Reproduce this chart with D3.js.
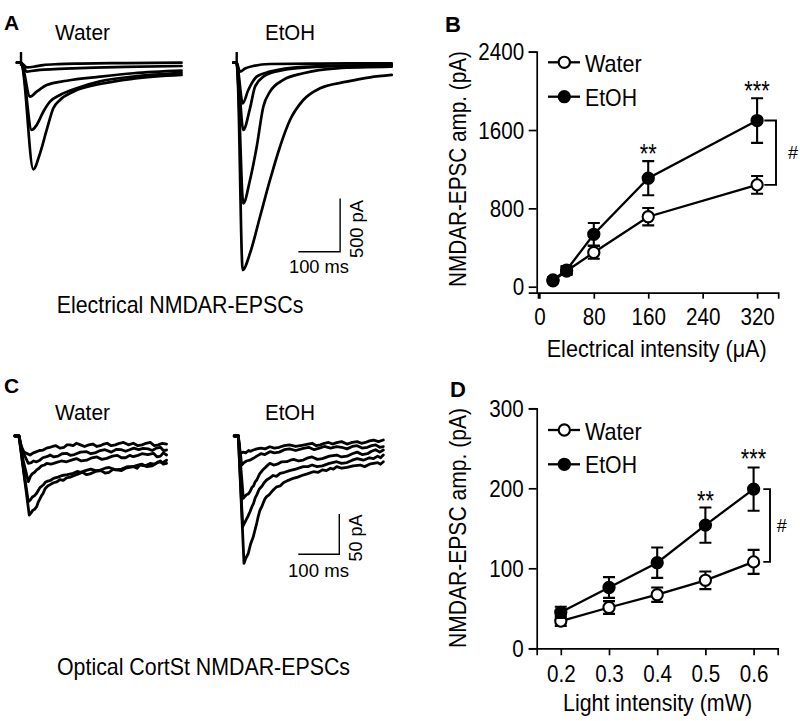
<!DOCTYPE html>
<html><head><meta charset="utf-8">
<script src="https://cdn.jsdelivr.net/npm/d3@7"></script>
<style>
body{margin:0;background:#fff}
svg{display:block}
text{font-family:"Liberation Sans",Arial,Helvetica,sans-serif;fill:#000}
</style></head>
<body><svg id="fig" width="800" height="721"></svg>
<script>
// ---------------- DATA ----------------
// Panel B: electrical stimulation
const elecIntensity = [20, 40, 80, 160, 320];           // µA
const elecWater     = [60, 160, 350, 715, 1040];        // pA
const elecWaterSem  = [25, 40, 65, 89, 90];
const elecEtOH      = [70, 170, 535, 1108, 1697];
const elecEtOHSem   = [25, 40, 115, 174, 228];
const elecYTicks    = [0, 800, 1600, 2400];
const elecXTicks    = [0, 80, 160, 240, 320];
const elecStars     = [{x: 160, label: "**"}, {x: 320, label: "***"}];

// Panel D: optical stimulation
const lightIntensity = [0.2, 0.3, 0.4, 0.5, 0.6];       // mW
const lightWater     = [34, 51, 67, 85, 108];           // pA
const lightWaterSem  = [6, 8, 9, 11, 15];
const lightEtOH      = [45, 76, 107, 154, 199];
const lightEtOHSem   = [7, 13, 19, 22, 27];
const lightYTicks    = [0, 100, 200, 300];
const lightXTicks    = [0.2, 0.3, 0.4, 0.5, 0.6];
const lightStars     = [{x: 0.5, label: "**"}, {x: 0.6, label: "***"}];

// Panel A example traces [ms, pA]
const artifactA = [[0, 100], [0, -30]];
const tracesAWater = [
  [[-9.6,0],[0,0],[3,-8],[14,-43],[30,-38],[53,-22],[90,-13],[141,-8],[250,-4],[385,0]],
  [[-9.6,0],[0,0],[3,-15],[14.4,-84],[25,-78],[45.6,-68],[80,-60],[141.5,-50],[250,-40],[385,-31]],
  [[-9.6,0],[0,0],[3,-20],[21.6,-319],[37.6,-272],[61.6,-209],[109.6,-169],[189.4,-131],[269.3,-99],[385,-75]],
  [[-9.6,0],[0,0],[3,-25],[25.7,-631],[37.6,-584],[53.5,-460],[69.5,-366],[93.5,-303],[133.6,-240],[189.4,-175],[269.3,-130],[385,-95]],
  [[-9.6,0],[0,0],[3,-30],[29.5,-1000],[45.6,-850],[61.6,-631],[77.5,-428],[93.5,-350],[125.4,-272],[189.4,-200],[269.3,-150],[385,-115]]
];
const tracesAEtOH = [
  [[-8,0],[0,0],[2,-20],[7.9,-84],[20,-55],[39.8,-31],[79.9,-12],[200,-8],[371.7,-6]],
  [[-8,0],[0,0],[3,-60],[14.4,-381],[27.8,-256],[48,-131],[79.9,-84],[159.7,-38],[260,-28],[371.7,-22]],
  [[-8,0],[0,0],[3,-80],[15.8,-631],[31.9,-428],[43.9,-225],[63.8,-131],[103.8,-75],[199.8,-38],[371.7,-24]],
  [[-8,0],[0,0],[3,-150],[15.8,-1319],[31.9,-1100],[48,-788],[63.8,-413],[79.9,-272],[111.8,-162],[159.7,-99],[239.8,-53],[371.7,-38]],
  [[-8,0],[0,0],[3,-200],[14.4,-1945],[31.9,-1788],[55.9,-1445],[79.9,-1100],[103.8,-788],[127.8,-538],[159.7,-350],[199.8,-240],[263.8,-178],[319.7,-137],[371.7,-115]]
];

// Panel C example traces [ms, pA]
const tracesCWater = [
  [[-10,0],[0,0],[5,-12],[12,-20],[27,-23.6],[35,-21],[40,-20],[50,-18],[59,-17.4],[67,-15],[75,-14],[82,-13],[90,-12],[100,-15],[110,-14],[117,-11],[124,-11],[132,-12],[140,-9],[150,-11],[160,-13],[170,-11],[180,-10],[190,-13],[198,-12],[207,-10],[215,-9],[225,-12],[235,-11],[245,-9],[255,-8],[267,-11],[279,-9],[290,-12],[300,-11],[310,-9],[320,-8],[330,-12],[340,-11],[350,-9],[360,-10]],
  [[-10,0],[0,0],[8,-18],[22.7,-34],[30,-33],[35,-31],[43,-32],[51,-30],[58,-27],[65,-26],[71,-25],[76,-23.6],[85,-26],[95,-25],[105,-22],[116,-21.5],[125,-24],[135,-23],[150,-20],[165,-19.5],[175,-22],[185,-21],[198,-18],[210,-17],[225,-20],[238,-16.5],[250,-17],[260,-19],[270,-17],[280,-15],[292,-17],[303,-15.3],[315,-16],[325,-18],[335,-15],[345,-14],[352,-18],[360,-17.4]],
  [[-10,0],[0,0],[10,-30],[22.7,-56.7],[28,-50],[32,-47],[38,-45],[43,-42],[49,-40],[55,-37],[62,-36],[67.6,-34],[78,-35],[90,-33],[103,-31],[116,-32],[128,-30],[140,-28],[152,-31],[165,-30],[178,-27],[190,-26],[202,-29],[214,-27.7],[228,-25],[240,-24],[250,-27],[260,-27],[270,-24],[279,-25.7],[290,-24],[300,-22],[314,-23],[328,-21.5],[337,-26],[345,-25],[352,-21],[360,-23.6]],
  [[-10,0],[0,0],[12,-45],[22.7,-81.5],[28,-79],[32,-76],[38,-74],[43,-71],[51,-64],[59,-60.8],[65,-57],[70,-56],[77,-55],[84,-52.5],[95,-51],[105,-49],[118,-48],[132,-46.3],[142,-44],[150,-45],[162,-43],[175,-41],[187,-43],[198,-42.2],[210,-40],[220,-39],[235,-42],[250,-41],[265,-38],[279,-38],[290,-36],[300,-35],[312,-38],[325,-37],[335,-34],[345,-31],[352,-35],[360,-34]],
  [[-10,0],[0,0],[14,-55],[25,-98],[30,-95],[34,-92],[38,-91],[43,-87.7],[47,-82],[51,-78],[55,-74],[59,-71],[64,-65],[70,-62],[77,-60],[84,-58],[92,-57],[100,-54],[108,-55],[116,-52],[125,-51],[135,-49],[145,-47],[155,-45],[165,-48],[173,-47],[187,-44],[200,-43],[210,-46],[220,-45],[230,-41],[238,-42],[250,-43],[260,-40],[270,-39],[280,-38],[288,-40],[295,-36],[308,-37],[320,-34],[330,-35],[340,-32],[350,-33],[360,-30]]
];
const tracesCEtOH = [
  [[-10,0],[0,0],[4,-21.5],[12,-20],[18,-21],[25,-18],[30,-19],[36.6,-17.4],[45,-16],[55,-15],[65,-16],[77,-13.3],[88,-15],[100,-14],[112,-12],[125,-11],[140,-13],[158.5,-11.2],[170,-10],[180,-9],[190,-12],[200,-11],[210,-9],[220,-8],[230,-10],[240,-8.3],[252,-7],[265,-10],[278,-8],[290,-7],[300,-9],[310,-8],[320,-6],[330,-5],[342,-7],[353.7,-5]],
  [[-10,0],[0,0],[8.3,-36],[14,-33],[20,-31],[28,-30],[36.6,-27.7],[45,-25],[55,-22],[65,-23],[77,-19.5],[88,-21],[100,-20],[112,-17],[125,-16],[140,-18],[158.5,-15.3],[172,-14],[185,-17],[198,-15],[210,-13],[225,-15],[240,-13.3],[252,-14],[265,-16],[278,-13],[290,-12],[302,-15],[315,-14],[325,-12],[335,-11],[345,-14],[353.7,-13.3]],
  [[-10,0],[0,0],[12.2,-77.3],[16,-75],[20,-73],[24,-72],[28.5,-69],[33,-64],[37,-62],[41,-57],[45,-54.6],[52,-47],[60,-42],[68,-38],[77,-33.9],[86,-36],[95,-35],[106,-32],[118,-31.9],[127,-30],[135,-29],[147,-31],[158.5,-29.8],[170,-27],[180,-26],[193,-29],[205,-28],[222,-25],[240,-23.6],[252,-26],[265,-25],[278,-22],[290,-20],[302,-23],[315,-22],[325,-19],[335,-17],[345,-20],[353.7,-17.4]],
  [[-10,0],[0,0],[10.7,-112.5],[15,-108],[20,-103],[24,-99],[28.5,-94],[33,-88],[37,-84],[41,-77],[45,-73],[51,-66],[58,-62],[63,-58],[69,-54.6],[77,-52],[85,-49],[93,-50],[102,-46.3],[113,-45],[125,-43],[140,-41],[158.5,-38],[170,-38],[180,-36],[192,-38],[205,-37],[222,-34],[240,-31.9],[252,-34],[265,-33],[278,-30],[290,-28],[305,-30],[320,-27],[330,-28],[340,-25],[347,-27],[353.7,-23.6]],
  [[-10,0],[0,0],[13.9,-158],[18,-152],[24.4,-145.5],[30,-134],[36.6,-125],[41,-116],[45,-108],[49,-99],[53,-91.8],[57,-88],[60,-84],[65,-78],[69,-75.3],[75,-73],[80,-70],[87,-66],[93.7,-63],[102,-62],[110,-58],[122,-55],[134,-52.5],[145,-51],[155,-49],[168,-47],[183,-44.3],[195,-45],[205,-42],[215,-43],[225,-40],[232,-41],[240,-38],[252,-40],[265,-39],[280,-37],[297,-36],[308,-38],[320,-35],[330,-34],[340,-33],[347,-35],[353.7,-32]]
];

// ---------------- DRAWING ----------------
const svg = d3.select("#fig");
const INK = "#000";

function label(s, x, y, fs, o = {}) {
  const t = svg.append("text").attr("x", x).attr("y", y).attr("font-size", fs).text(s);
  if (o.anchor) t.attr("text-anchor", o.anchor);
  if (o.len) t.attr("textLength", o.len).attr("lengthAdjust", "spacingAndGlyphs");
  if (o.bold) t.attr("font-weight", "bold");
  if (o.rot) t.attr("transform", `rotate(${o.rot},${x},${y})`);
  return t;
}
function tickLen(s, fs) {
  let w = 0; for (const c of s) w += (c === "." ? 0.278 : 0.556);
  return w * fs * 0.86;
}

// ---------- trace panels ----------
function tracePanel(traces, x0, y0, pxPerMs, pxPerPA, curve, sw, artifact) {
  const x = d3.scaleLinear().domain([0, 100]).range([x0, x0 + 100 * pxPerMs]);
  const y = d3.scaleLinear().domain([0, -100]).range([y0, y0 + 100 * pxPerPA]);
  const line = d3.line().x(d => x(d[0])).y(d => y(d[1])).curve(curve);
  const g = svg.append("g");
  g.selectAll("path.tr").data(traces).join("path").attr("class", "tr")
    .attr("d", line).attr("fill", "none").attr("stroke", INK)
    .attr("stroke-width", sw).attr("stroke-linejoin", "round").attr("stroke-linecap", "round");
  if (artifact) {
    g.append("path").attr("d", d3.line().x(d => x(d[0])).y(d => y(d[1]))(artifact))
      .attr("stroke", INK).attr("stroke-width", 2.4).attr("fill", "none");
  }
  return {x, y};
}
function scaleBar(sc, tEnd, pABottom, dt, dpa) {
  const xs = sc.x(tEnd - dt), xe = sc.x(tEnd), yb = sc.y(pABottom), yt = sc.y(pABottom + dpa);
  svg.append("path").attr("d", `M${xs},${yb}H${xe}V${yt}`)
    .attr("fill", "none").attr("stroke", INK).attr("stroke-width", 1.4);
}

// Panel A
tracePanel(tracesAWater, 21, 62.7, 0.417, 0.1066, d3.curveMonotoneX, 2.7, artifactA);
const scAE = tracePanel(tracesAEtOH, 236.7, 62.7, 0.417, 0.1066, d3.curveMonotoneX, 2.7, artifactA);
scaleBar(scAE, 248, -1773, 100, 500);

// Panel C
tracePanel(tracesCWater, 19, 436, 0.41, 0.806, d3.curveLinear, 2.8, null);
const scCE = tracePanel(tracesCEtOH, 238.3, 436, 0.41, 0.806, d3.curveLinear, 2.8, null);
scaleBar(scCE, 246.3, -146.8, 100, 50);

// texts A / C
label("A", 4, 30, 21, {bold: true});
label("Water", 55, 40, 22, {len: 55});
label("EtOH", 265, 40, 22, {len: 50});
label("100 ms", 289, 272.7, 19, {len: 60});
label("500 pA", 363.3, 229, 19, {anchor: "middle", rot: -90, len: 58});
label("Electrical NMDAR-EPSCs", 56.7, 313.3, 24, {len: 246.7});

label("C", 4, 393, 21, {bold: true});
label("Water", 55, 420, 22, {len: 55});
label("EtOH", 265, 420, 22, {len: 50});
label("100 ms", 288, 577.3, 19, {len: 61});
label("50 pA", 361.7, 538, 19, {anchor: "middle", rot: -90, len: 47});
label("Optical CortSt NMDAR-EPSCs", 57, 675, 24, {len: 293});

// ---------- line charts ----------
function linePanel(cfg) {
  const {x, y, xv, water, waterSem, etoh, etohSem, xTicks, yTicks, xFmt, tickX, tickY, padX, padY} = cfg;
  const g = svg.append("g");
  const ax = g.append("g").attr("transform", `translate(0,${cfg.xAxisY})`)
    .call(d3.axisBottom(x).tickValues(xTicks).tickSizeOuter(0).tickSize(tickX).tickPadding(padX).tickFormat(xFmt));
  const ay = g.append("g").attr("transform", `translate(${cfg.yAxisX},0)`)
    .call(d3.axisLeft(y).tickValues(yTicks).tickSizeOuter(0).tickSize(tickY).tickPadding(padY).tickFormat(d3.format("d")));
  [ax, ay].forEach(a => {
    a.selectAll("path,line").attr("stroke", INK).attr("stroke-width", 1.7);
    a.selectAll("text").attr("font-size", 24).attr("fill", INK)
      .attr("font-family", '"Liberation Sans",Arial,sans-serif')
      .each(function () { const s = this.textContent; d3.select(this).attr("textLength", tickLen(s, 24)).attr("lengthAdjust", "spacingAndGlyphs"); });
  });
  ay.selectAll("text").attr("dy", "0.34em");

  const series = [
    {v: water, e: waterSem, fill: "#fff"},
    {v: etoh, e: etohSem, fill: INK}
  ];
  const line = d3.line().x((d, i) => x(xv[i])).y(d => y(d));
  series.forEach(s => {
    g.append("path").attr("d", line(s.v)).attr("fill", "none").attr("stroke", INK).attr("stroke-width", 2.3);
    const eb = g.append("g");
    s.v.forEach((v, i) => {
      const cx = x(xv[i]), top = y(v + s.e[i]), bot = y(v - s.e[i]);
      eb.append("path").attr("d", `M${cx},${top}V${bot}M${cx - 6},${top}H${cx + 6}M${cx - 6},${bot}H${cx + 6}`)
        .attr("stroke", INK).attr("stroke-width", 2.1).attr("fill", "none");
    });
    g.selectAll(null).data(s.v).join("circle")
      .attr("cx", (d, i) => x(xv[i])).attr("cy", d => y(d)).attr("r", 5.6)
      .attr("fill", s.fill).attr("stroke", INK).attr("stroke-width", 2.1);
  });
  // legend
  [{name: "Water", fill: "#fff", ly: cfg.legY[0], base: cfg.legBase[0], len: 56.7},
   {name: "EtOH", fill: INK, ly: cfg.legY[1], base: cfg.legBase[1], len: 52}].forEach(l => {
    g.append("line").attr("x1", 548).attr("x2", 580).attr("y1", l.ly).attr("y2", l.ly)
      .attr("stroke", INK).attr("stroke-width", 2.3);
    g.append("circle").attr("cx", 564.3).attr("cy", l.ly).attr("r", 5.6)
      .attr("fill", l.fill).attr("stroke", INK).attr("stroke-width", 2.1);
    label(l.name, 585, l.base, 24, {len: l.len});
  });
  // stars
  cfg.stars.forEach((s, k) => {
    const i = xv.indexOf(s.x);
    const top = y(etoh[i] + etohSem[i]);
    label(s.label, x(s.x), top - cfg.starGap[k] + 13, 28, {anchor: "middle", len: s.label.length * 8.5});
  });
  // bracket between last means
  const n = xv.length - 1;
  const yT = y(etoh[n]), yB = y(water[n]);
  g.append("path").attr("d", `M${cfg.brX0},${yT}H${cfg.brX1}V${yB}H${cfg.brX0}`)
    .attr("fill", "none").attr("stroke", INK).attr("stroke-width", 1.9);
  label("#", cfg.hashX, (yT + yB) / 2 + 6, 18, {});
}

// Panel B
const xB = d3.scaleLinear().domain([-2, 351]).range([538, 778.2]);
const yB = d3.scaleLinear().domain([-60, 2400]).range([286.7 + 60 * 235 / 2400, 51.7]);
linePanel({
  x: xB, y: yB, xv: elecIntensity, water: elecWater, waterSem: elecWaterSem, etoh: elecEtOH, etohSem: elecEtOHSem,
  xTicks: elecXTicks, yTicks: elecYTicks, xFmt: d3.format("d"), tickX: 6, tickY: 8, padX: 9.3, padY: 4.5,
  xAxisY: 292.7, yAxisX: 536.7, legY: [62.3, 96.7], legBase: [71.7, 106],
  stars: elecStars, starGap: [11, 11.7], brX0: 764.3, brX1: 776, hashX: 788
});
label("B", 445, 31.7, 22, {bold: true});
label("Electrical intensity (\u03bcA)", 656.7, 357, 24.5, {anchor: "middle", len: 220});
label("NMDAR-EPSC amp. (pA)", 466, 169, 24.5, {anchor: "middle", rot: -90, len: 236});

// Panel D
const xD = d3.scaleLinear().domain([0.15, 0.65]).range([536.7, 777.7]);
const yD = d3.scaleLinear().domain([0, 300]).range([648.3, 408.3]);
linePanel({
  x: xD, y: yD, xv: lightIntensity, water: lightWater, waterSem: lightWaterSem, etoh: lightEtOH, etohSem: lightEtOHSem,
  xTicks: lightXTicks, yTicks: lightYTicks, xFmt: d3.format(".1f"), tickX: 7, tickY: 8, padX: 9.7, padY: 5,
  xAxisY: 648.3, yAxisX: 536.7, legY: [430, 464.3], legBase: [440, 473.3],
  stars: lightStars, starGap: [11, 13], brX0: 763.3, brX1: 770, hashX: 776.7
});
label("D", 450, 396.7, 22, {bold: true});
label("Light intensity (mW)", 657.5, 711, 24.5, {anchor: "middle", len: 189});
label("NMDAR-EPSC amp. (pA)", 466, 528, 24.5, {anchor: "middle", rot: -90, len: 240});
</script>
</body></html>
